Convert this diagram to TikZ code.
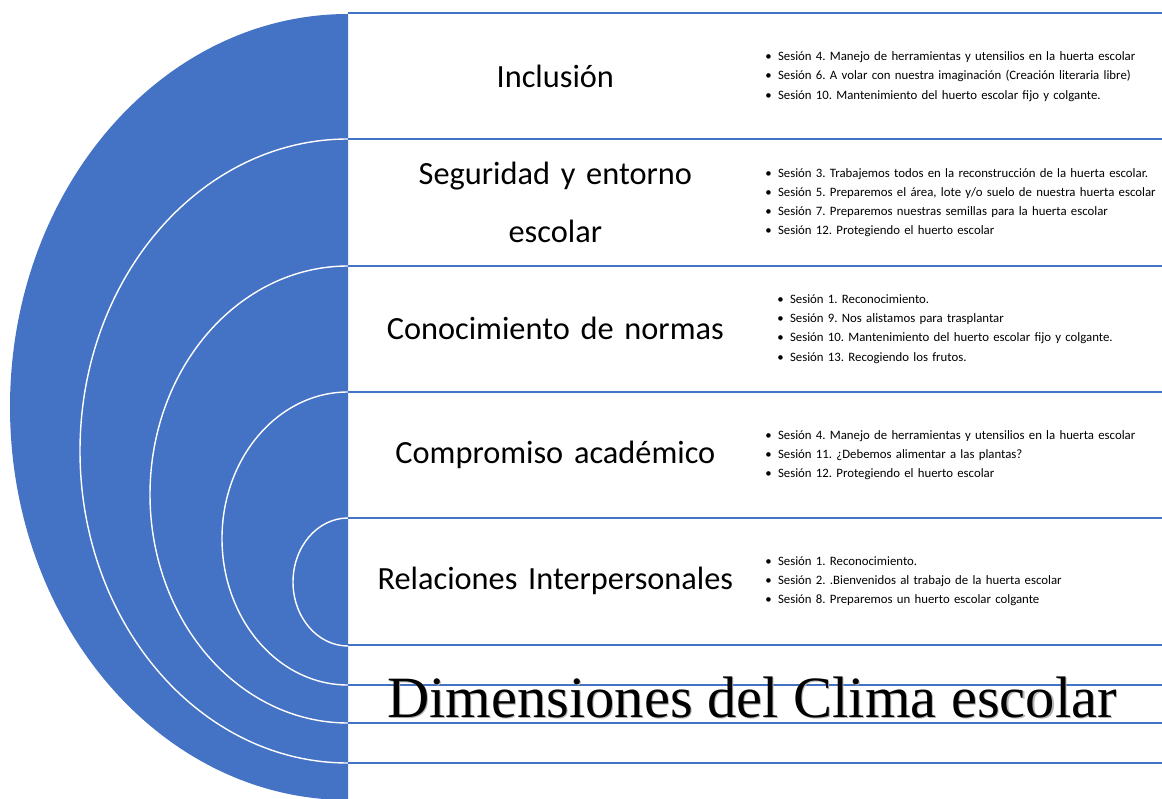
\documentclass[tikz,border=0pt]{standalone}
\usepackage{fontspec}
\setmainfont{Carlito}
\newfontfamily\timesfont{Liberation Serif}
\usetikzlibrary{matrix}
\definecolor{azul}{HTML}{4472C4}
\newcommand{\pto}{\makebox[9pt][l]{\textbullet}}
\frenchspacing
\tikzset{
    bandline/.style={azul, line width=1.8pt},
    arcline/.style={white, line width=1pt},
    climatext/.style={font={\timesfont\fontsize{41.6pt}{50pt}\selectfont}, anchor=base, inner sep=0pt},
}

\begin{document}
\begin{tikzpicture}[x=0.025cm, y=0.025cm]
    \useasboundingbox (0,0) rectangle (1162,798);
    % semicircle with the nested arcs
    \begin{scope}
      \clip (0,0) rectangle (348,798);
      \fill[azul] (348,391) ellipse [x radius=338, y radius=393];
      \foreach \cy/\rx/\ry in {347/268/312, 303.5/198/228.5, 259.5/126/146.5, 216/55/64}
        \draw[arcline] (348,\cy) ellipse [x radius=\rx, y radius=\ry];
    \end{scope}
    % bands
    \foreach \y in {785,659,532,406,280,153,113,75,35}
      \draw[bandline] (348,\y) -- (1162,\y);
    \matrix (dims) [
      matrix of nodes,
      anchor=north west,
      inner sep=0pt,
      column sep=0pt,
      row sep=0pt,
      nodes={anchor=center, minimum height=3.155cm, inner ysep=0pt},
      column 1/.style={nodes={text width=10.35cm, inner xsep=0pt, align=center, font={\fontsize{23pt}{41pt}\selectfont}}},
      column 2/.style={nodes={text width=9.85cm, inner xsep=0.075cm, align=left, font={\fontsize{9.1pt}{13.7pt}\selectfont}}},
      row 3 column 2/.style={nodes={xshift=0.3cm}},
    ] at (348,785) {
       Inclusión & {\pto Sesión 4. Manejo de herramientas y utensilios en la huerta escolar\\
         \pto Sesión 6. A volar con nuestra imaginación (Creación literaria libre)\\
         \pto Sesión 10. Mantenimiento del huerto escolar fijo y colgante.} \\
       {Seguridad y entorno\\ escolar} & {\pto Sesión 3. Trabajemos todos en la reconstrucción de la huerta escolar.\\
         \pto Sesión 5. Preparemos el área, lote y/o suelo de nuestra huerta escolar\\
         \pto Sesión 7. Preparemos nuestras semillas para la huerta escolar\\
         \pto Sesión 12. Protegiendo el huerto escolar} \\
       Conocimiento de normas & {\pto Sesión 1. Reconocimiento.\\
         \pto Sesión 9. Nos alistamos para trasplantar\\
         \pto Sesión 10. Mantenimiento del huerto escolar fijo y colgante.\\
         \pto Sesión 13. Recogiendo los frutos.} \\
       Compromiso académico & {\pto Sesión 4. Manejo de herramientas y utensilios en la huerta escolar\\
         \pto Sesión 11. ¿Debemos alimentar a las plantas?\\
         \pto Sesión 12. Protegiendo el huerto escolar} \\
       Relaciones Interpersonales & {\pto Sesión 1. Reconocimiento.\\
         \pto Sesión 2. .Bienvenidos al trabajo de la huerta escolar\\
         \pto Sesión 8. Preparemos un huerto escolar colgante} \\
    };
    % title with its shadow
    \node (climashadow) [climatext, text=black!30] at (753.2,79.8) {Dimensiones del Clima escolar};
    \node (clima) [climatext] at (752,81) {Dimensiones del Clima escolar};
\end{tikzpicture}
\end{document}
